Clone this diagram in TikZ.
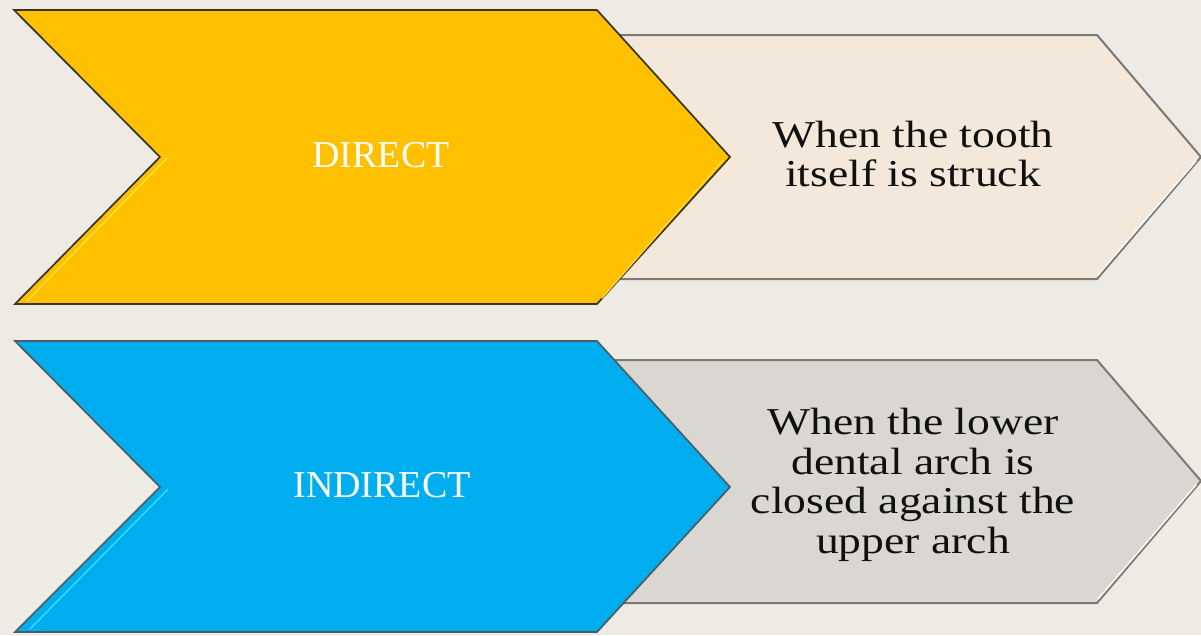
\documentclass[tikz,border=0pt]{standalone}
\usepackage{fontspec}
\setmainfont{Liberation Serif}
\newfontfamily\descfont[FakeStretch=1.2]{Liberation Serif}

\definecolor{bg}{HTML}{EEEBE5}
\definecolor{gold}{HTML}{FFC000}
\definecolor{golddark}{HTML}{3A3328}
\definecolor{goldlight}{HTML}{FFE23A}
\definecolor{sky}{HTML}{00AEEF}
\definecolor{skydark}{HTML}{4A5C66}
\definecolor{skylight}{HTML}{3FDAFF}
\definecolor{beigebox}{HTML}{F3E8D9}
\definecolor{greybox}{HTML}{DAD7D2}
\definecolor{boxline}{HTML}{7C7872}
\definecolor{txt}{HTML}{101010}

\begin{document}
\begin{tikzpicture}[x=1pt,y=-1pt,
  chevron/.style={line width=1.7pt, line join=miter},
  panel/.style={line width=2pt, draw=boxline, line join=miter},
  shine/.style={line width=1.4pt, line cap=round},
  tag/.style={text=white, inner sep=0pt, font=\fontsize{38}{40}\selectfont},
  desc/.style={text=txt, inner sep=0pt, align=center,
               font=\descfont\fontsize{38}{39.5}\selectfont}]

% background and page size
\fill[bg] (0,0) rectangle (1201,635);
\useasboundingbox (0,0) rectangle (1201,635);

% ---- first row ----
\filldraw[panel, fill=beigebox]
  (608,35) -- (1097,35) -- (1201,157) -- (1097,279) -- (608,279) -- (712,157) -- cycle;
\draw[shine, white] (1196,161) -- (1098,275);

\filldraw[chevron, fill=gold, draw=golddark]
  (14,10) -- (597,10) -- (730,157) -- (597,304) -- (15,304) -- (160,157) -- cycle;
\draw[shine, goldlight] (167,158) -- (27,301);
\draw[shine, goldlight!70!gold] (723,160) -- (602,298);

\node[tag] (direct) at (381,155) {DIRECT};
\node[desc] (directdesc) at (913,154) {When the tooth\\itself is struck};

% ---- second row ----
\filldraw[panel, fill=greybox]
  (608,360) -- (1097,360) -- (1201,481) -- (1097,603) -- (608,603) -- (712,481) -- cycle;
\draw[shine, white] (1196,485) -- (1098,599);

\filldraw[chevron, fill=sky, draw=skydark]
  (15,341) -- (597,341) -- (730,487) -- (597,632) -- (15,632) -- (160,487) -- cycle;
\draw[shine, skylight] (168,489) -- (30,629);

\node[tag] (indirect) at (382,485) {INDIRECT};
\node[desc] (indirectdesc) at (913,485)
  {When the lower\\dental arch is\\closed against the\\upper arch};

\end{tikzpicture}
\end{document}
